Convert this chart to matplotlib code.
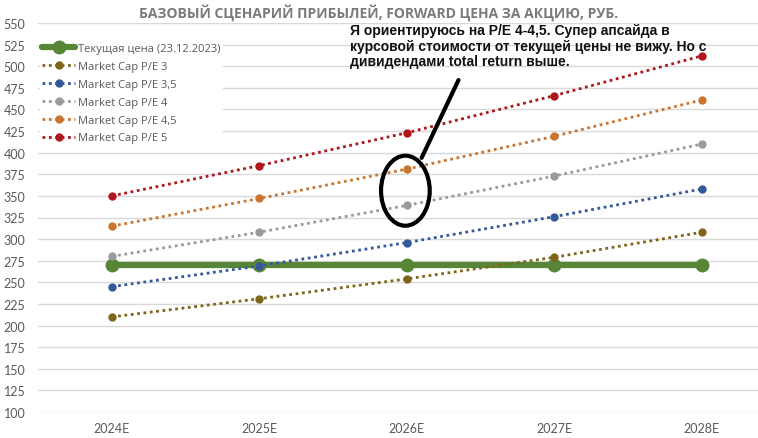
import matplotlib
matplotlib.use("Agg")
import matplotlib.pyplot as plt
from matplotlib.patches import Ellipse

years = ["2024E", "2025E", "2026E", "2027E", "2028E"]
current_price = [270, 270, 270, 270, 270]
pe_3 = [210, 231, 254, 279, 308]
pe_3_5 = [245, 269, 296, 326, 358]
pe_4 = [280, 308, 339, 373, 410]
pe_4_5 = [315, 347, 381, 419, 461]
pe_5 = [350, 385, 423, 466, 512]
y_ticks = list(range(100, 551, 25))

series = [
    ("Market Cap P/E 3", pe_3, "#7f6518"),
    ("Market Cap P/E 3,5", pe_3_5, "#34589c"),
    ("Market Cap P/E 4", pe_4, "#9a9a9a"),
    ("Market Cap P/E 4,5", pe_4_5, "#c9752f"),
    ("Market Cap P/E 5", pe_5, "#b0171c"),
]

fig = plt.figure(figsize=(7.58, 4.39), dpi=100)
ax = fig.add_axes([38 / 758, 26 / 439, 720 / 758, 389 / 439])

x = list(range(len(years)))
ax.plot(x, current_price, color="#578636", lw=4.5, marker="o", ms=9,
        label="Текущая цена (23.12.2023)", zorder=3, solid_capstyle="round")
for name, vals, col in series:
    ax.plot(x, vals, color=col, lw=2, ls=(0, (1, 1.3)), marker="o", ms=5,
            label=name, zorder=4)

ax.set_xlim(-0.5, 4.38)
ax.set_ylim(100, 550)
ax.set_yticks(y_ticks)
ax.set_xticks(x)
ax.set_xticklabels(years)
ax.grid(axis="y", color="#d9d9d9", lw=1)
ax.set_axisbelow(True)
for s in ax.spines.values():
    s.set_visible(False)
ax.tick_params(length=0, labelsize=9, labelcolor="#595959")
ax.tick_params(axis="y", pad=9)
ax.tick_params(axis="x", pad=7)
for lab in ax.get_yticklabels() + ax.get_xticklabels():
    lab.set_fontfamily("Lato")

leg = ax.legend(loc="upper left", bbox_to_anchor=(0.0, 0.96), frameon=True,
                prop={"family": "Open Sans", "size": 8}, labelcolor="#595959",
                handlelength=2.9, handletextpad=0.3, labelspacing=0.62,
                borderpad=0.2, borderaxespad=0.2)
leg.get_frame().set_facecolor("white")
leg.get_frame().set_edgecolor("none")
leg.get_frame().set_alpha(1)

fig.text(0.5, 0.972, "БАЗОВЫЙ СЦЕНАРИЙ ПРИБЫЛЕЙ, FORWARD ЦЕНА ЗА АКЦИЮ, РУБ.",
         ha="center", va="center", fontsize=10, fontweight="bold",
         color="#7a7a7a", family="Open Sans")

fig.text(350 / 758, 1 - 24 / 439,
         "Я ориентируюсь на P/E 4-4,5. Супер апсайда в\n"
         "курсовой стоимости от текущей цены не вижу. Но с\n"
         "дивидендами total return выше.",
         ha="left", va="top", fontsize=10, fontweight="bold", color="#111111",
         family="Liberation Sans", linespacing=1.15)

# hand-drawn pointer and circle around P/E 4 in 2026
ax.add_patch(Ellipse((1.99, 356), 0.33, 81, fill=False, ec="black", lw=3, zorder=6))
ax.plot([2.35, 2.10], [484, 394], color="black", lw=3, zorder=6, solid_capstyle="round")

fig.savefig("out.png", dpi=100)
